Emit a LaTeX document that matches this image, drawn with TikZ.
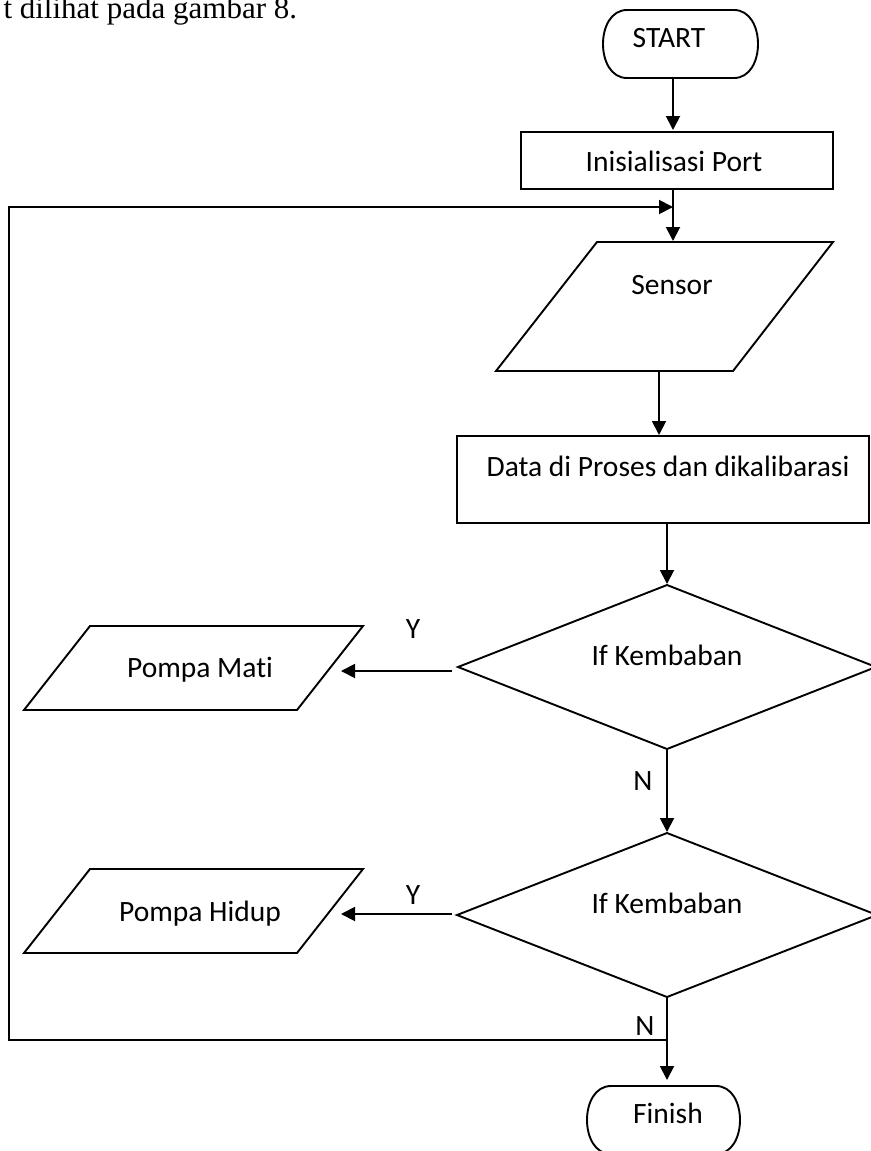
\documentclass[tikz,border=0pt]{standalone}
\usepackage{fontspec}
\setmainfont{Carlito}[Ligatures={NoCommon}]
\newfontfamily\serifdoc{Liberation Serif}
\usetikzlibrary{arrows.meta}
\tikzset{
  arr/.style={-{Triangle[length=14pt,width=14pt]}},
  lbl/.style={font=\fontsize{29.5}{31}\selectfont, anchor=base, inner sep=0pt},
  box/.style={draw, inner sep=0pt},
}
\begin{document}
\begin{tikzpicture}[x=1pt,y=-1pt,line width=1.9pt]
\useasboundingbox (0,0) rectangle (870,1151);
% intro text
\node[font=\serifdoc\fontsize{31}{33}\selectfont, anchor=base east, inner sep=0pt] (intro) at (298,19) {t dilihat pada gambar 8.};

% START terminator
\draw (627,10) -- (734,10) .. controls (766,10) and (766,78) .. (734,78) -- (627,78) .. controls (595,78) and (595,10) .. (627,10) -- cycle;
\node[lbl] (start) at (669,47) {START};
\coordinate (startB) at (673,78);

% Inisialisasi Port
\node[box, minimum width=312pt, minimum height=57pt] (initbox) at (677,160.5) {};
\node[lbl] (init) at (674,171) {Inisialisasi Port};
\coordinate (initT) at (673,130);
\coordinate (initB) at (673,189);

% Sensor
\draw (597,242) -- (833,242) -- (733,371) -- (496,371) -- cycle;
\node[lbl] (sensor) at (672,294) {Sensor};
\coordinate (sensorT) at (673,241);
\coordinate (sensorB) at (659,371);

% Data
\node[box, minimum width=412pt, minimum height=87pt] (databox) at (663,479.5) {};
\node[lbl] (data) at (668,476) {Data di Proses dan dikalibarasi};
\coordinate (dataT) at (659,435);
\coordinate (dataB) at (667,523);

% Decision 1
\draw (667,585) -- (876,667) -- (667,749) -- (458,667) -- cycle;
\node[lbl] (d1) at (667,665) {If Kembaban};
\coordinate (d1T) at (667,584);
\coordinate (d1L) at (452,671);
\coordinate (d1B) at (667,749);

% Pompa Mati
\draw (90,626) -- (363,626) -- (297,710) -- (24,710) -- cycle;
\node[lbl] (pm) at (200,677) {Pompa Mati};
\coordinate (pmR) at (341,671);
\node[lbl] (y1) at (413,638) {Y};

% Decision 2
\draw (667,833) -- (877,915) -- (667,997) -- (457,915) -- cycle;
\node[lbl] (d2) at (667,913) {If Kembaban};
\coordinate (d2T) at (667,832);
\coordinate (d2L) at (452,914);
\coordinate (d2B) at (667,997);
\node[lbl] (n1) at (643,790) {N};

% Pompa Hidup
\draw (90,869) -- (363,869) -- (297,953) -- (24,953) -- cycle;
\node[lbl] (ph) at (200,921) {Pompa Hidup};
\coordinate (phR) at (341,914);
\node[lbl] (y2) at (413,904) {Y};

% Finish terminator
\draw (611,1086) -- (716,1086) .. controls (748,1086) and (748,1154) .. (716,1154) -- (611,1154) .. controls (579,1154) and (579,1086) .. (611,1086) -- cycle;
\node[lbl] (finish) at (668,1123) {Finish};
\coordinate (finT) at (667,1080);
\node[lbl] (n2) at (645,1035) {N};

% loop coordinates
\coordinate (loopR) at (666,1040);
\coordinate (loopBL) at (9,1040);
\coordinate (loopTL) at (9,207);
\coordinate (loopEnd) at (673,207);

% connectors
\draw[arr] (startB) -- (initT);
\draw[arr] (initB) -- (sensorT);
\draw[arr] (sensorB) -- (dataT);
\draw[arr] (dataB) -- (d1T);
\draw[arr] (d1L) -- (pmR);
\draw[arr] (d1B) -- (d2T);
\draw[arr] (d2L) -- (phR);
\draw[arr] (d2B) -- (finT);
\draw[arr] (loopR) -- (loopBL) -- (loopTL) -- (loopEnd);
\end{tikzpicture}
\end{document}
